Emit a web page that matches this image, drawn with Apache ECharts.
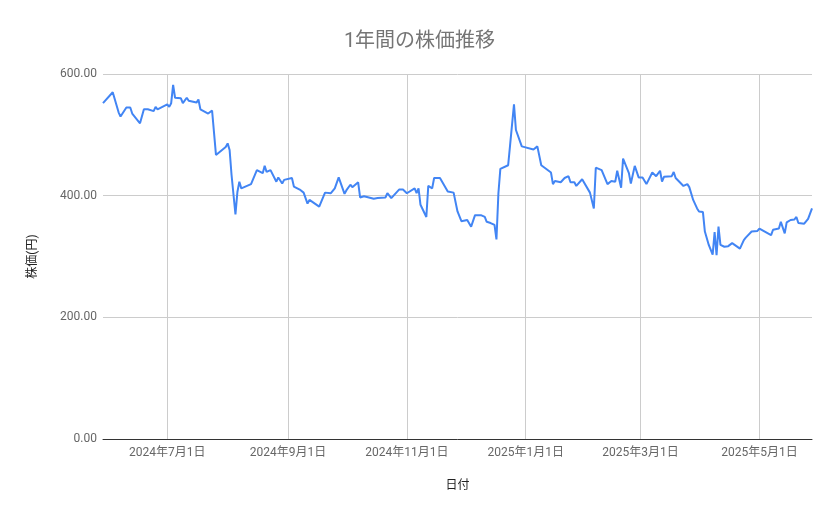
<!DOCTYPE html>
<html><head><meta charset="utf-8">
<script src="https://cdn.jsdelivr.net/npm/echarts@6/dist/echarts.min.js"></script>
<style>html,body{margin:0;padding:0;background:#fff}#c{width:839px;height:519px}</style>
</head><body><div id="c"></div>
<script>
const dates = [
'2024-05-29','2024-05-30','2024-06-03','2024-06-06','2024-06-07','2024-06-10','2024-06-12','2024-06-13','2024-06-14','2024-06-17',
'2024-06-19','2024-06-21','2024-06-24','2024-06-25','2024-06-26','2024-06-27','2024-07-01','2024-07-02','2024-07-03','2024-07-04',
'2024-07-05','2024-07-08','2024-07-09','2024-07-11','2024-07-12','2024-07-16','2024-07-17','2024-07-18','2024-07-22','2024-07-23',
'2024-07-24','2024-07-26','2024-07-31','2024-08-01','2024-08-02','2024-08-03','2024-08-05','2024-08-06','2024-08-07','2024-08-08',
'2024-08-09','2024-08-13','2024-08-16','2024-08-19','2024-08-20','2024-08-21','2024-08-23','2024-08-26','2024-08-27','2024-08-29',
'2024-08-30','2024-09-03','2024-09-04','2024-09-07','2024-09-09','2024-09-11','2024-09-12','2024-09-17','2024-09-20','2024-09-21',
'2024-09-23','2024-09-25','2024-09-27','2024-09-30','2024-10-01','2024-10-03','2024-10-04','2024-10-07','2024-10-08','2024-10-10',
'2024-10-11','2024-10-15','2024-10-16','2024-10-17','2024-10-21','2024-10-22','2024-10-24','2024-10-28','2024-10-30','2024-10-31',
'2024-11-01','2024-11-05','2024-11-06','2024-11-07','2024-11-08','2024-11-11','2024-11-12','2024-11-14','2024-11-15','2024-11-18',
'2024-11-19','2024-11-22','2024-11-25','2024-11-27','2024-11-28','2024-11-29','2024-12-02','2024-12-03','2024-12-04','2024-12-06',
'2024-12-09','2024-12-11','2024-12-12','2024-12-14','2024-12-16','2024-12-17','2024-12-18','2024-12-19','2024-12-20','2024-12-23',
'2024-12-24','2024-12-26','2024-12-27','2024-12-30','2024-12-31','2025-01-05','2025-01-07','2025-01-09','2025-01-10','2025-01-14',
'2025-01-15','2025-01-16','2025-01-19','2025-01-21','2025-01-23','2025-01-24','2025-01-26','2025-01-27','2025-01-28','2025-01-30',
'2025-02-03','2025-02-04','2025-02-05','2025-02-06','2025-02-09','2025-02-12','2025-02-13','2025-02-14','2025-02-16','2025-02-17',
'2025-02-19','2025-02-20','2025-02-23','2025-02-24','2025-02-26','2025-02-28','2025-03-02','2025-03-04','2025-03-07','2025-03-09',
'2025-03-11','2025-03-12','2025-03-13','2025-03-17','2025-03-18','2025-03-19','2025-03-23','2025-03-25','2025-03-26','2025-03-28',
'2025-03-30','2025-03-31','2025-04-02','2025-04-03','2025-04-04','2025-04-05','2025-04-07','2025-04-08','2025-04-09','2025-04-10',
'2025-04-11','2025-04-13','2025-04-14','2025-04-15','2025-04-16','2025-04-17','2025-04-21','2025-04-22','2025-04-23','2025-04-24',
'2025-04-27','2025-04-28','2025-04-30','2025-05-01','2025-05-07','2025-05-08','2025-05-11','2025-05-12','2025-05-13','2025-05-14',
'2025-05-15','2025-05-17','2025-05-19','2025-05-20','2025-05-21','2025-05-24','2025-05-26','2025-05-27','2025-05-28'
];
const prices = [
552,549,570,537,530,545,545,535,534,519,
542,542,539,546,542,545,550,546,552,582,
561,560,552,561,556,553,558,542,535,534,
540,467,480,486,475,434,369,406,423,412,
410,419,442,437,449,439,442,423,430,420,
426,429,415,410,405,387,393,382,405,405,
404,412,430,403,409,418,414,422,397,399,
396,395,392,396,397,404,396,410,410,407,
404,412,404,412,385,365,416,412,429,429,
428,407,405,374,374,358,360,361,349,368,
368,365,357,355,352,328,404,444,442,450,
483,550,508,481,479,476,481,450,453,438,
419,424,422,429,432,422,422,416,417,427,
405,406,379,446,442,419,416,424,423,441,
413,461,437,420,449,430,430,419,438,432,
441,423,431,432,439,429,416,419,414,393,
379,374,373,341,338,319,303,340,302,349,
319,316,313,317,316,322,313,314,327,331,
341,342,342,346,335,344,346,357,355,338,
356,360,361,365,355,354,362,359,379
];
const xTickDates = ['2024-07-01','2024-09-01','2024-11-01','2025-01-01','2025-03-01','2025-05-01'];
const yMin = 0, yMax = 600, yStep = 200;

const FONT = 'Roboto, "Noto Sans CJK JP", sans-serif';
const ts = s => echarts.time.parse(s).getTime();
const xTicks = xTickDates.map(ts);
const chart = echarts.init(document.getElementById('c'), null, {renderer: 'canvas'});
chart.setOption({
  animation: false,
  title: {
    text: '1年間の株価推移', left: 'center', top: 27,
    textStyle: {fontSize: 20, fontWeight: 'normal', color: '#757575', fontFamily: FONT}
  },
  grid: {left: 103, right: 27, top: 74, bottom: 80, containLabel: false},
  xAxis: {
    type: 'value', scale: true,
    min: ts(dates[0]), max: ts(dates[dates.length - 1]),
    name: '日付', nameLocation: 'middle', nameGap: 41,
    nameTextStyle: {fontSize: 12, color: '#222', fontFamily: FONT},
    axisLine: {show: true, onZero: false, lineStyle: {color: '#333', width: 1}},
    axisTick: {show: false, customValues: xTicks},
    axisLabel: {
      customValues: xTicks, margin: 8, fontSize: 12, color: '#666', fontFamily: FONT,
      formatter: v => { const d = new Date(v); return d.getFullYear() + '年' + (d.getMonth() + 1) + '月' + d.getDate() + '日'; }
    },
    splitLine: {show: true, lineStyle: {color: '#cccccc', width: 1}}
  },
  yAxis: {
    type: 'value', min: yMin, max: yMax, interval: yStep,
    name: '株価(円)', nameLocation: 'middle', nameGap: 64,
    nameTextStyle: {fontSize: 12, color: '#222', fontFamily: FONT},
    axisLine: {show: false}, axisTick: {show: false},
    axisLabel: {margin: 6, fontSize: 12, color: '#666', fontFamily: FONT, formatter: v => v.toFixed(2)},
    splitLine: {show: true, lineStyle: {color: '#cccccc', width: 1}}
  },
  series: [{
    type: 'line', showSymbol: false, smooth: false,
    data: dates.map((d, i) => [ts(d), prices[i]]),
    lineStyle: {color: '#4285f4', width: 2},
    itemStyle: {color: '#4285f4'}
  }]
});
</script>
</body></html>
